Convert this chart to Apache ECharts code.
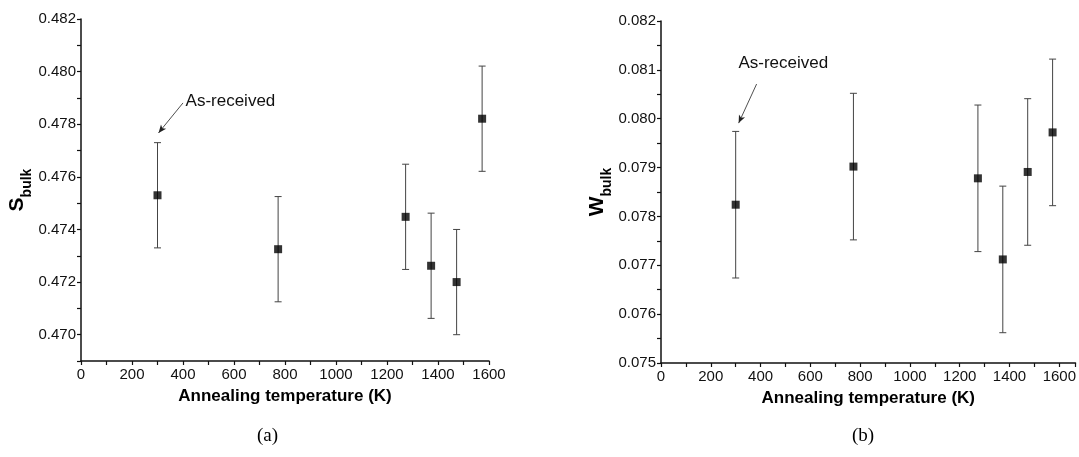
<!DOCTYPE html>
<html>
<head>
<meta charset="utf-8">
<script src="https://cdn.jsdelivr.net/npm/echarts@6/dist/echarts.min.js"></script>
<style>html,body{margin:0;padding:0;background:#fff}#c{width:1079px;height:457px}</style>
</head>
<body>
<div id="c"></div>
<script>
// ---- data ----
var temps = [300, 773, 1273, 1373, 1473, 1573];
var sBulk = [0.4753, 0.47325, 0.47448, 0.47262, 0.4720, 0.47821];
var sErr  = [0.002, 0.002, 0.002, 0.002, 0.002, 0.002];
var wBulk = [0.07824, 0.07902, 0.07878, 0.07712, 0.07891, 0.07972];
var wErr  = [0.0015, 0.0015, 0.0015, 0.0015, 0.0015, 0.0015];
var sTickLabels = ['0.470', '0.472', '0.474', '0.476', '0.478', '0.480', '0.482'];
var wTickLabels = ['0.075', '0.076', '0.077', '0.078', '0.079', '0.080', '0.081', '0.082'];
var xTickLabels = ['0', '200', '400', '600', '800', '1000', '1200', '1400', '1600'];
var annotation = 'As-received';

var FONT = '"Liberation Sans", Arial, sans-serif';

function pts(xs, ys) { return xs.map(function (x, i) { return [x, ys[i]]; }); }
function errs(xs, ys, es) { return xs.map(function (x, i) { return [x, ys[i] - es[i], ys[i] + es[i]]; }); }

function errRender(params, api) {
  var x = api.value(0), lo = api.value(1), hi = api.value(2);
  var a = api.coord([x, hi]), b = api.coord([x, lo]);
  var w = 3.5;
  var st = { stroke: '#444', lineWidth: 1 };
  return { type: 'group', children: [
    { type: 'line', shape: { x1: a[0], y1: a[1], x2: b[0], y2: b[1] }, style: st },
    { type: 'line', shape: { x1: a[0] - w, y1: a[1], x2: a[0] + w, y2: a[1] }, style: st },
    { type: 'line', shape: { x1: b[0] - w, y1: b[1], x2: b[0] + w, y2: b[1] }, style: st }
  ]};
}

function xAxisCfg(idx, max) {
  return {
    type: 'value', gridIndex: idx, min: 0, max: max, interval: 100,
    name: 'Annealing temperature (K)', nameLocation: 'middle', nameGap: 27,
    nameTextStyle: { fontFamily: FONT, fontSize: 17, fontWeight: 'bold', color: '#000' },
    axisLine: { show: true, onZero: false, lineStyle: { color: '#111', width: 1.5 } },
    axisTick: { show: true, length: 4, lineStyle: { color: '#111', width: 1.2 } },
    splitLine: { show: false },
    axisLabel: { fontFamily: FONT, fontSize: 15, color: '#111', margin: 6, showMaxLabel: true, showMinLabel: true,
      formatter: function (v) { var s = String(Math.round(v)); return xTickLabels.indexOf(s) >= 0 ? s : ''; } }
  };
}
function yAxisCfg(idx, min, max, interval, labels, nameMain, gap) {
  return {
    type: 'value', gridIndex: idx, min: min, max: max, interval: interval,
    name: '{m|' + nameMain + '}{s|bulk}', nameLocation: 'middle', nameGap: gap, nameRotate: 90,
    nameTextStyle: { fontFamily: FONT, color: '#000',
      rich: { m: { fontFamily: FONT, fontSize: 21, fontWeight: 'bold', lineHeight: 26, verticalAlign: 'bottom' },
              s: { fontFamily: FONT, fontSize: 14, fontWeight: 'bold', lineHeight: 26, verticalAlign: 'bottom', padding: [0, 0, -7, 0] } } },
    axisLine: { show: true, onZero: false, lineStyle: { color: '#111', width: 1.5 } },
    axisTick: { show: true, length: 4, lineStyle: { color: '#111', width: 1.2 } },
    splitLine: { show: false },
    axisLabel: { fontFamily: FONT, fontSize: 15, color: '#111', margin: 5,
      formatter: function (v) {
        var k = v * 1000;
        if (Math.abs(k - Math.round(k)) > 1e-6) return '';
        var s = (Math.round(k) / 1000).toFixed(3);
        return labels.indexOf(s) >= 0 ? s : '';
      } }
  };
}

var chart = echarts.init(document.getElementById('c'));
var option = {
  animation: false,
  backgroundColor: '#fff',
  grid: [
    { left: 81, top: 19, width: 408, height: 342 },
    { left: 661, top: 21, width: 417, height: 342 }
  ],
  xAxis: [ xAxisCfg(0, 1600), xAxisCfg(1, 1665) ],
  yAxis: [
    yAxisCfg(0, 0.469, 0.482, 0.001, sTickLabels, 'S', 46),
    yAxisCfg(1, 0.075, 0.082, 0.0005, wTickLabels, 'W', 44)
  ],
  graphic: [
    { type: 'text', left: 257, top: 427, style: { text: '(a)', font: '19px "Liberation Serif", "Times New Roman", serif', fill: '#000' } },
    { type: 'text', left: 852, top: 427, style: { text: '(b)', font: '19px "Liberation Serif", "Times New Roman", serif', fill: '#000' } }
  ],
  series: [
    { type: 'custom', xAxisIndex: 0, yAxisIndex: 0, renderItem: errRender, data: errs(temps, sBulk, sErr), z: 2, encode: { x: 0, y: [1, 2] } },
    { type: 'scatter', xAxisIndex: 0, yAxisIndex: 0, data: pts(temps, sBulk), symbol: 'rect', symbolSize: 8,
      itemStyle: { color: '#000' }, z: 3,
      markLine: { silent: true, symbol: ['none', 'arrow'], symbolSize: [5, 8], lineStyle: { color: '#222', width: 0.8, type: 'solid' }, label: { show: false },
        data: [[ { coord: [400, 0.47881] }, { coord: [304, 0.47767] } ]] },
      markPoint: { silent: true, symbol: 'circle', symbolSize: 0,
        label: { show: true, position: 'right', distance: 0, formatter: annotation, fontFamily: FONT, fontSize: 17, color: '#111' },
        data: [ { coord: [410, 0.47887] } ] } },
    { type: 'custom', xAxisIndex: 1, yAxisIndex: 1, renderItem: errRender, data: errs(temps, wBulk, wErr), z: 2, encode: { x: 0, y: [1, 2] } },
    { type: 'scatter', xAxisIndex: 1, yAxisIndex: 1, data: pts(temps, wBulk), symbol: 'rect', symbolSize: 8,
      itemStyle: { color: '#000' }, z: 3,
      markLine: { silent: true, symbol: ['none', 'arrow'], symbolSize: [5, 8], lineStyle: { color: '#222', width: 0.8, type: 'solid' }, label: { show: false },
        data: [[ { coord: [384, 0.08071] }, { coord: [312, 0.07991] } ]] },
      markPoint: { silent: true, symbol: 'circle', symbolSize: 0,
        label: { show: true, position: 'right', distance: 0, formatter: annotation, fontFamily: FONT, fontSize: 17, color: '#111' },
        data: [ { coord: [311, 0.08114] } ] } }
  ]
};
chart.setOption(option);
</script>
</body>
</html>
